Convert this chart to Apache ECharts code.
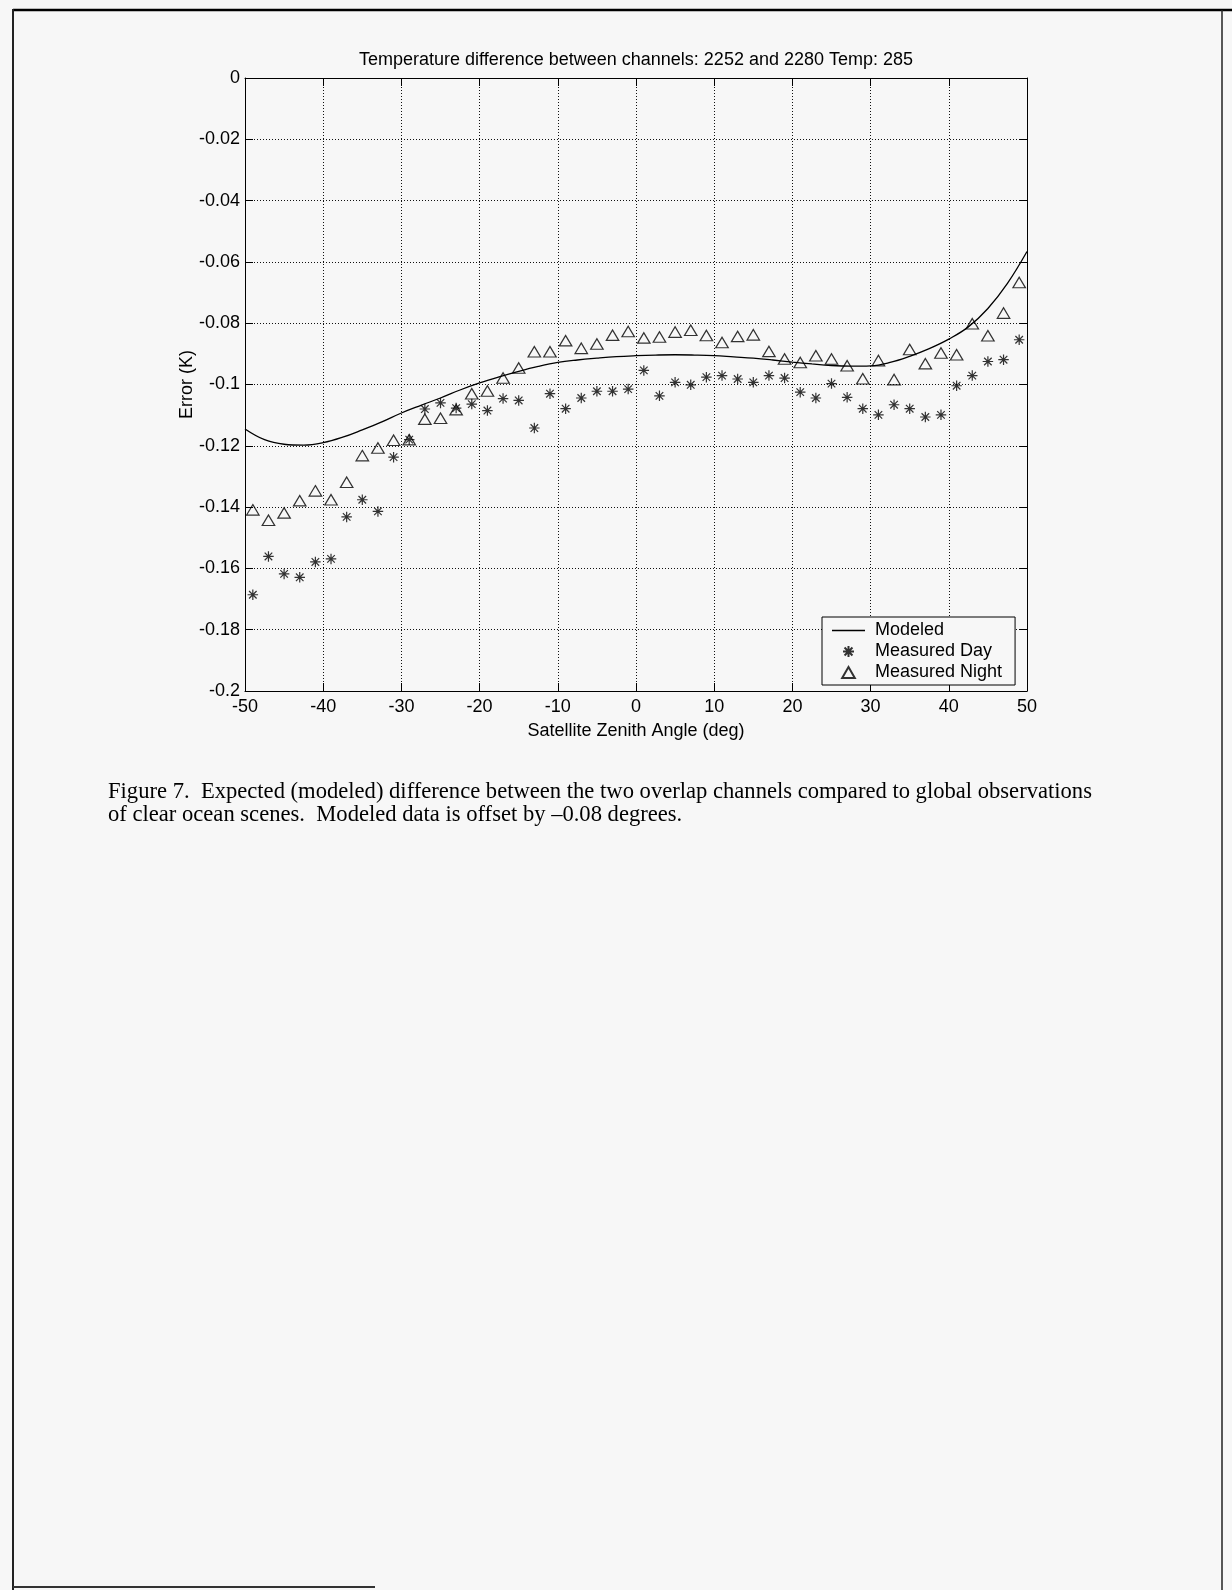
<!DOCTYPE html>
<html>
<head>
<meta charset="utf-8">
<title>Temperature difference between channels</title>
<script src="https://cdn.jsdelivr.net/npm/echarts@6/dist/echarts.min.js"></script>
<style>
  html, body { margin: 0; padding: 0; background: #f7f7f7; }
  #chart { width: 1232px; height: 1590px; }
</style>
</head>
<body>
<div id="chart"></div>
<script>
// Satellite zenith angle bins (deg)
const angles = [-49, -47, -45, -43, -41, -39, -37, -35, -33, -31,
                -29, -27, -25, -23, -21, -19, -17, -15, -13, -11,
                -9, -7, -5, -3, -1, 1, 3, 5, 7, 9,
                11, 13, 15, 17, 19, 21, 23, 25, 27, 29,
                31, 33, 35, 37, 39, 41, 43, 45, 47, 49];

// Measured day error (K)
const dayError = [-0.1686, -0.1561, -0.1618, -0.1629, -0.1579, -0.1569, -0.1432, -0.1376, -0.1414, -0.1237,
                  -0.1180, -0.1080, -0.1060, -0.1077, -0.1064, -0.1085, -0.1046, -0.1052, -0.1142, -0.1030,
                  -0.1079, -0.1044, -0.1022, -0.1022, -0.1015, -0.0954, -0.1037, -0.0993, -0.1001, -0.0976,
                  -0.0971, -0.0982, -0.0993, -0.0971, -0.0979, -0.1025, -0.1044, -0.0997, -0.1042, -0.1079,
                  -0.1099, -0.1066, -0.1079, -0.1106, -0.1099, -0.1004, -0.0971, -0.0925, -0.0919, -0.0854];

// Measured night error (K)
const nightError = [-0.1409, -0.1443, -0.1419, -0.1379, -0.1347, -0.1376, -0.1319, -0.1232, -0.1207, -0.1182,
                    -0.1180, -0.1113, -0.1110, -0.1082, -0.1030, -0.1021, -0.0979, -0.0946, -0.0893, -0.0893,
                    -0.0857, -0.0882, -0.0868, -0.0839, -0.0827, -0.0848, -0.0845, -0.0829, -0.0823, -0.0840,
                    -0.0863, -0.0843, -0.0838, -0.0892, -0.0917, -0.0928, -0.0906, -0.0917, -0.0939, -0.0981,
                    -0.0922, -0.0984, -0.0886, -0.0932, -0.0897, -0.0903, -0.0802, -0.0841, -0.0767, -0.0667];

// Modeled curve (offset by -0.08)
const modelAngles = [-50, -47.5, -45, -42.5, -40, -37.5, -35, -32.5, -30, -27.5,
                     -25, -22.5, -20, -17.5, -15, -12.5, -10, -7.5, -5, -2.5,
                     0, 2.5, 5, 7.5, 10, 12.5, 15, 17.5, 20, 22.5,
                     25, 27.5, 30, 32.5, 35, 37.5, 40, 42.5, 45, 47.5, 50];
const modelError = [-0.1145, -0.1180, -0.1195, -0.1198, -0.1190, -0.1172, -0.1148, -0.1122, -0.1093, -0.1068,
                    -0.1044, -0.1018, -0.0995, -0.0975, -0.0957, -0.0941, -0.0928, -0.0920, -0.0914, -0.0909,
                    -0.0906, -0.0904, -0.0903, -0.0904, -0.0906, -0.0910, -0.0914, -0.0920, -0.0927, -0.0933,
                    -0.0938, -0.0940, -0.0939, -0.0928, -0.0908, -0.0883, -0.0852, -0.0812, -0.0752, -0.0670, -0.0566];

// Tick labels
const xTickLabels = ['-50', '-40', '-30', '-20', '-10', '0', '10', '20', '30', '40', '50'];
const yTickLabels = ['0', '-0.02', '-0.04', '-0.06', '-0.08', '-0.1', '-0.12', '-0.14', '-0.16', '-0.18', '-0.2'];

const titleText = 'Temperature difference between channels: 2252 and 2280 Temp: 285';
const captionText = 'Figure 7.  Expected (modeled) difference between the two overlap channels compared to global observations\n' +
                    'of clear ocean scenes.  Modeled data is offset by \u20130.08 degrees.';

const SANS = '"Liberation Sans", Arial, sans-serif';
const SERIF = '"Liberation Serif", "Times New Roman", serif';
const INK = '#000';
const PAPER = '#f7f7f7';

const ASTERISK = 'path://M0,-1L0,1M-1,0L1,0M-0.72,-0.72L0.72,0.72M-0.72,0.72L0.72,-0.72';
const TRIANGLE = 'path://M0,-10L11.5,10L-11.5,10Z';
const LINE_ICON = 'path://M0,0L33,0L33,1.3L0,1.3Z';

const pairs = (xs, ys) => xs.map((x, i) => [x, ys[i]]);

const gridLine = { show: true, lineStyle: { color: '#111', width: 1, type: [1, 2] } };
const boxLine = { show: true, onZero: false, lineStyle: { color: INK, width: 1 } };
const inTick = { show: true, inside: true, length: 8, lineStyle: { color: INK, width: 1 } };

const chart = echarts.init(document.getElementById('chart'), null, { renderer: 'canvas' });

chart.setOption({
  backgroundColor: PAPER,
  animation: false,
  grid: { left: 245, top: 78, width: 782, height: 613, containLabel: false, outerBoundsMode: 'none' },
  xAxis: [
    {
      type: 'value', position: 'bottom', min: -50, max: 50, interval: 10,
      axisLine: boxLine, axisTick: inTick, splitLine: gridLine,
      axisLabel: {
        margin: 7, color: INK, fontFamily: SANS, fontSize: 18,
        formatter: v => xTickLabels[Math.round((v + 50) / 10)]
      },
      name: 'Satellite Zenith Angle (deg)', nameLocation: 'middle', nameGap: 31, nameMoveOverlap: false,
      nameTextStyle: { color: INK, fontFamily: SANS, fontSize: 18 }
    },
    {
      type: 'value', position: 'top', min: -50, max: 50, interval: 10,
      axisLine: boxLine, axisTick: inTick, splitLine: { show: false }, axisLabel: { show: false }
    }
  ],
  yAxis: [
    {
      type: 'value', position: 'left', min: -0.2, max: 0, interval: 0.02,
      axisLine: boxLine, axisTick: inTick, splitLine: gridLine,
      axisLabel: {
        margin: 5, color: INK, fontFamily: SANS, fontSize: 18,
        formatter: v => yTickLabels[Math.round(-v / 0.02)]
      },
      name: 'Error (K)', nameLocation: 'middle', nameGap: 49, nameRotate: 90, nameMoveOverlap: false,
      nameTextStyle: { color: INK, fontFamily: SANS, fontSize: 18 }
    },
    {
      type: 'value', position: 'right', min: -0.2, max: 0, interval: 0.02,
      axisLine: boxLine, axisTick: inTick, splitLine: { show: false }, axisLabel: { show: false }
    }
  ],
  legend: {
    orient: 'vertical', left: 822, top: 617,
    padding: [3, 13, 2, 10], itemGap: 0,
    itemWidth: 33, itemHeight: 11,
    backgroundColor: PAPER, borderColor: INK, borderWidth: 1, borderRadius: 0,
    textStyle: { color: INK, fontFamily: SANS, fontSize: 18, lineHeight: 21, padding: [0, 0, 0, 5] },
    data: [
      { name: 'Modeled', icon: LINE_ICON, itemStyle: { color: INK, borderWidth: 0 } },
      { name: 'Measured Day' },
      { name: 'Measured Night' }
    ]
  },
  series: [
    {
      name: 'Modeled', type: 'line', smooth: 0.4, symbol: 'none', showSymbol: false,
      lineStyle: { color: INK, width: 1.3 },
      itemStyle: { color: INK },
      data: pairs(modelAngles, modelError), z: 3
    },
    {
      name: 'Measured Day', type: 'scatter', symbol: ASTERISK, symbolSize: 10.5,
      itemStyle: { color: 'transparent', borderColor: INK, borderWidth: 1.2 },
      data: pairs(angles, dayError), z: 4
    },
    {
      name: 'Measured Night', type: 'scatter', symbol: TRIANGLE, symbolSize: [12.5, 10.5],
      itemStyle: { color: 'transparent', borderColor: INK, borderWidth: 1.2 },
      data: pairs(angles, nightError), z: 4
    }
  ],
  graphic: [
    // page frame
    { type: 'line', shape: { x1: 13, y1: 10, x2: 1232, y2: 10 }, style: { stroke: INK, lineWidth: 2.5 }, silent: true },
    { type: 'line', shape: { x1: 13, y1: 9, x2: 13, y2: 1590 }, style: { stroke: '#222', lineWidth: 2 }, silent: true },
    { type: 'line', shape: { x1: 1222, y1: 10, x2: 1222, y2: 1590 }, style: { stroke: '#222', lineWidth: 1.5 }, silent: true },
    { type: 'line', shape: { x1: 13, y1: 1587, x2: 375, y2: 1587 }, style: { stroke: '#333', lineWidth: 2 }, silent: true },
    // chart title
    {
      type: 'text', x: 636, y: 60, silent: true,
      style: { text: titleText, fill: INK, font: '18px ' + SANS, align: 'center', verticalAlign: 'middle' }
    },
    // figure caption
    {
      type: 'text', x: 108, y: 781, silent: true,
      style: { text: captionText, fill: INK, font: '22.6px ' + SERIF, lineHeight: 23, align: 'left', verticalAlign: 'top' }
    }
  ]
});
</script>
</body>
</html>
